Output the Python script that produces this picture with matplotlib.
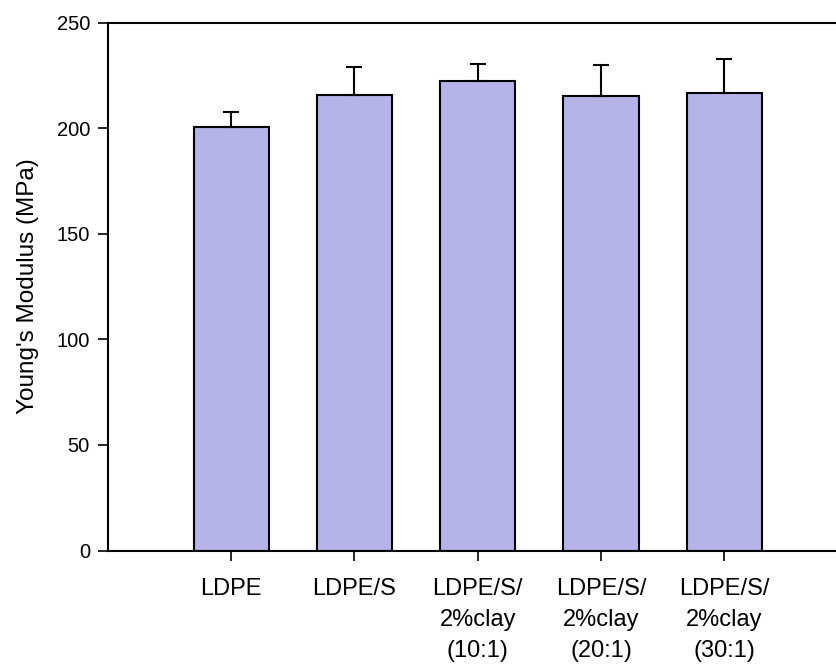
import matplotlib
matplotlib.use("Agg")
import matplotlib.pyplot as plt
import numpy as np

categories = ["LDPE", "LDPE/S", "LDPE/S/\n2%clay\n(10:1)", "LDPE/S/\n2%clay\n(20:1)", "LDPE/S/\n2%clay\n(30:1)"]
modulus = [200.5, 215.8, 222.2, 215.0, 216.6]
errors = [7.0, 13.0, 8.3, 14.7, 15.9]
yticks = [0, 50, 100, 150, 200, 250]

plt.rcParams['font.family'] = ['Liberation Sans', 'DejaVu Sans']

W, H = 837, 665
fig = plt.figure(figsize=(W/100, H/100), dpi=100)
left, right, top, bottom = 108, 837, 22.5, 550.5
ax = fig.add_axes([left/W, 1 - bottom/H, (right-left)/W, (bottom-top)/H])

x = np.arange(len(categories))
ax.bar(x, modulus, width=0.61, color='#B6B3E8', edgecolor='black', linewidth=1.5, zorder=2)
ax.errorbar(x, modulus, yerr=[np.zeros(len(errors)), errors], fmt='none', ecolor='black',
            elinewidth=1.5, capsize=6, capthick=1.5, zorder=3)

ax.set_xlim(-1.0, 4.915)
ax.set_ylim(0, 250)
ax.set_yticks(yticks)
ax.set_xticks(x)
ax.set_xticklabels(categories, linespacing=1.54, fontsize=17)
ax.tick_params(axis='both', direction='out', length=7, width=1.2, pad=6)
ax.tick_params(axis='y', labelsize=14.5)
ax.tick_params(axis='x', pad=12.5)
ax.set_ylabel("Young's Modulus (MPa)", fontsize=17.5, labelpad=13)
for s in ['left', 'top', 'bottom']:
    ax.spines[s].set_linewidth(1.5)
ax.spines['right'].set_visible(False)

fig.savefig("out.png", dpi=100)
